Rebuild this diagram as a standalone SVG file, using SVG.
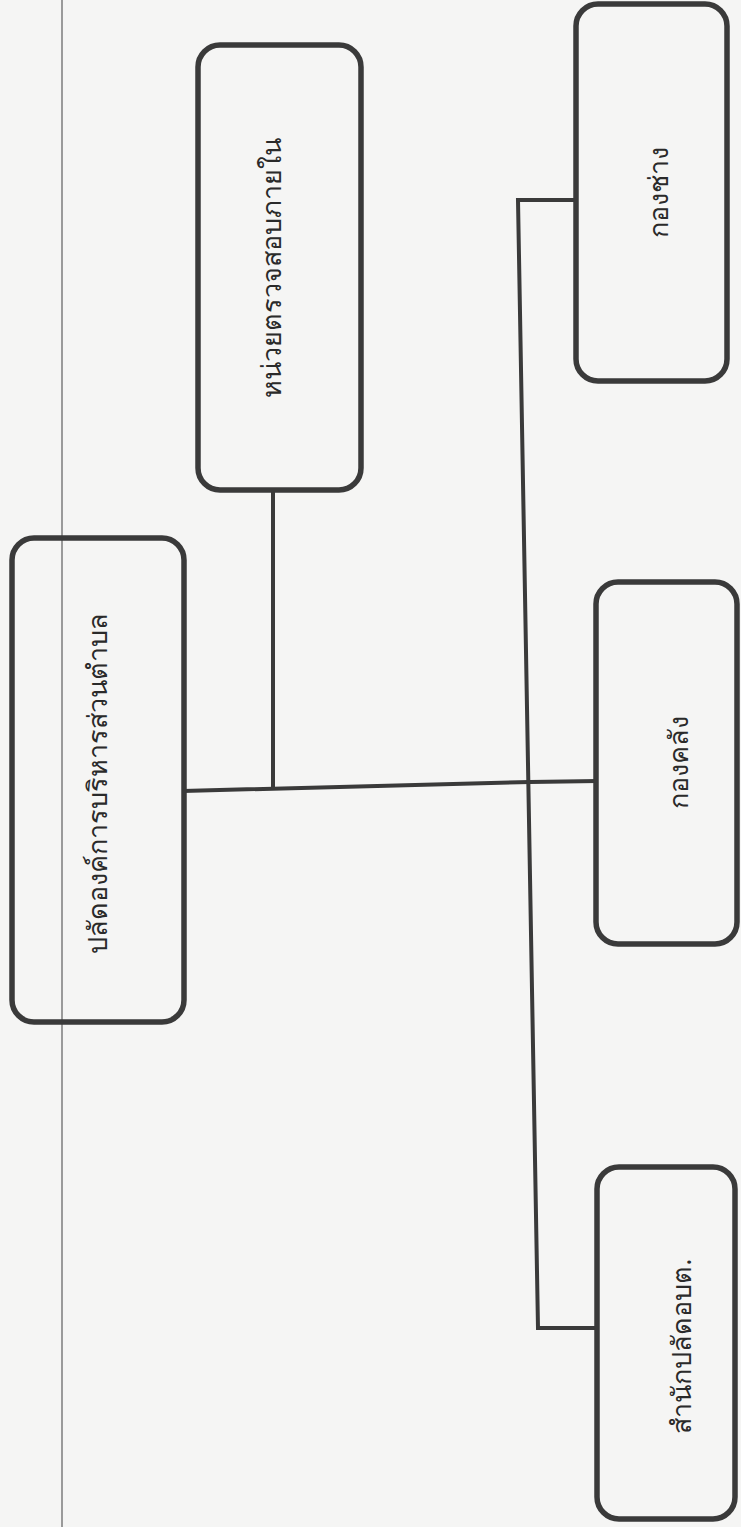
<svg xmlns="http://www.w3.org/2000/svg" width="741" height="1527" viewBox="0 0 741 1527">
<style>
.box{fill:none;stroke:#3a3a3a;stroke-width:5.5}
.ln{fill:none;stroke:#3a3a3a;stroke-width:4;stroke-linecap:butt}
.t{font-family:"Noto Sans","DejaVu Sans",sans-serif;font-size:27px;fill:#2a2a2a;text-anchor:middle;dominant-baseline:central}
</style>
<rect x="0" y="0" width="741" height="1527" fill="#f5f5f4"/>
<line x1="62" y1="0" x2="62" y2="1527" stroke="#9a9a9a" stroke-width="2"/>
<g id="connectors">
<polyline class="ln" points="183,791 530,782 598,781"/>
<line class="ln" x1="273" y1="490" x2="273" y2="789"/>
<polyline class="ln" points="577,200 518,200 538,1328 598,1328"/>
</g>
<g id="n1">
<rect class="box" x="12" y="538" width="172" height="484" rx="22"/>
<text class="t" transform="translate(96,783) rotate(-90)">ปลัดองค์การบริหารส่วนตำบล</text>
</g>
<g id="n2">
<rect class="box" x="198" y="45" width="163" height="445" rx="22"/>
<text class="t" transform="translate(270,268) rotate(-90)">หน่วยตรวจสอบภายใน</text>
</g>
<g id="n3">
<rect class="box" x="576" y="4" width="151" height="377" rx="22"/>
<text class="t" transform="translate(657,192) rotate(-90)">กองช่าง</text>
</g>
<g id="n4">
<rect class="box" x="596" y="582" width="141" height="362" rx="22"/>
<text class="t" transform="translate(677,762) rotate(-90)">กองคลัง</text>
</g>
<g id="n5">
<rect class="box" x="597" y="1167" width="138" height="352" rx="22"/>
<text class="t" transform="translate(680,1346) rotate(-90)">สำนักปลัดอบต.</text>
</g>
</svg>
